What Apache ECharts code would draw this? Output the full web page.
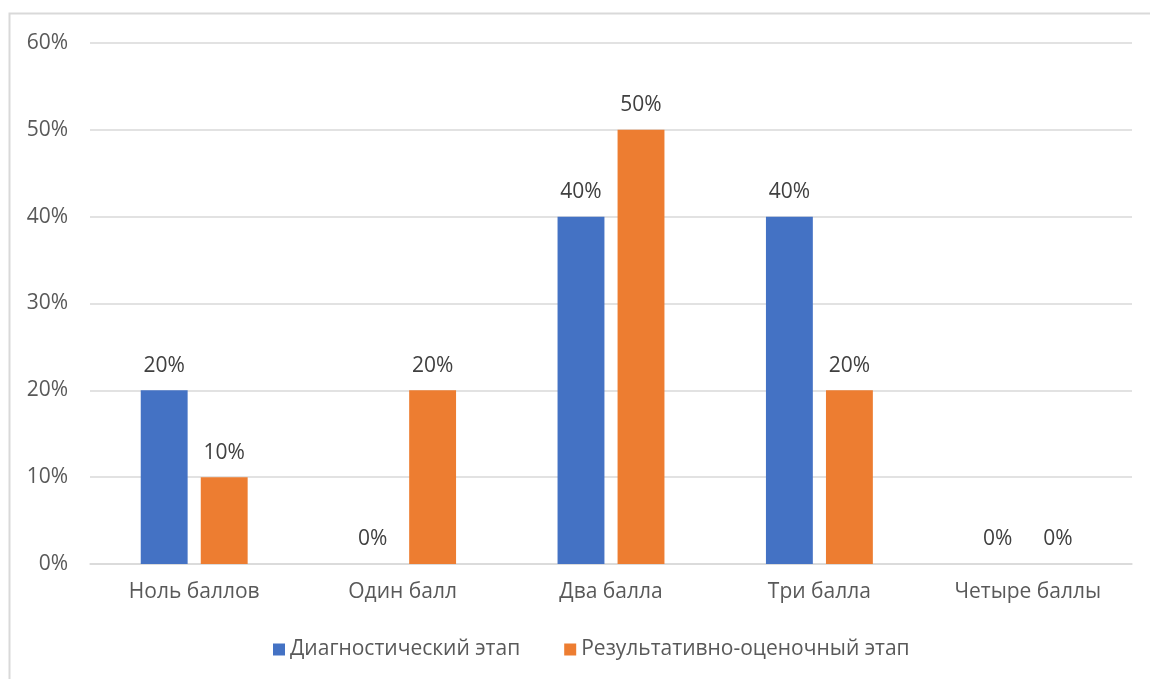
<!DOCTYPE html>
<html><head><meta charset="utf-8">
<script src="https://cdn.jsdelivr.net/npm/echarts@6/dist/echarts.min.js"></script>
<style>html,body{margin:0;padding:0;background:#fff}#c{width:1150px;height:679px}</style>
</head><body><div id="c"></div>
<script>
const categories = ['Ноль баллов','Один балл','Два балла','Три балла','Четыре баллы'];
const seriesNames = ['Диагностический этап','Результативно-оценочный этап'];
const diag = [20, 0, 40, 40, 0];
const result = [10, 20, 50, 20, 0];
const yTicks = [0,10,20,30,40,50,60];

const chart = echarts.init(document.getElementById('c'));
const font = '"Open Sans", "Noto Sans", sans-serif';
const lbl = {show:true, position:'top', distance:14, color:'#404040', fontSize:21, fontFamily:font, formatter:p=>p.value+'%'};
chart.setOption({
  animation:false,
  graphic:[{type:'rect', shape:{x:9.5,y:13.5,width:1200,height:700}, style:{fill:'none', stroke:'#d9d9d9', lineWidth:2}, silent:true}],
  grid:{left:90, right:18, top:43, bottom:115, containLabel:false},
  legend:{bottom:14, left:268, itemWidth:12, itemHeight:12, itemGap:44, itemTextGap:7, icon:'rect',
    textStyle:{color:'#595959', fontSize:21, fontFamily:font}, data:seriesNames},
  xAxis:{type:'category', data:categories,
    axisLine:{lineStyle:{color:'#d9d9d9', width:1.5}}, axisTick:{show:false},
    axisLabel:{color:'#595959', fontSize:21, fontFamily:font, margin:18}},
  yAxis:{type:'value', min:yTicks[0], max:yTicks[yTicks.length-1], interval:10,
    axisLine:{show:false}, axisTick:{show:false},
    splitLine:{lineStyle:{color:'#d9d9d9', width:1.5}},
    axisLabel:{color:'#595959', fontSize:21, fontFamily:font, margin:22, formatter:v=>v+'%'}},
  series:[
    {name:seriesNames[0], type:'bar', data:diag, itemStyle:{color:'#4472c4'}, barGap:'28%', barCategoryGap:'48.7%', label:lbl},
    {name:seriesNames[1], type:'bar', data:result, itemStyle:{color:'#ed7d31'}, label:lbl}
  ]
});
</script></body></html>
